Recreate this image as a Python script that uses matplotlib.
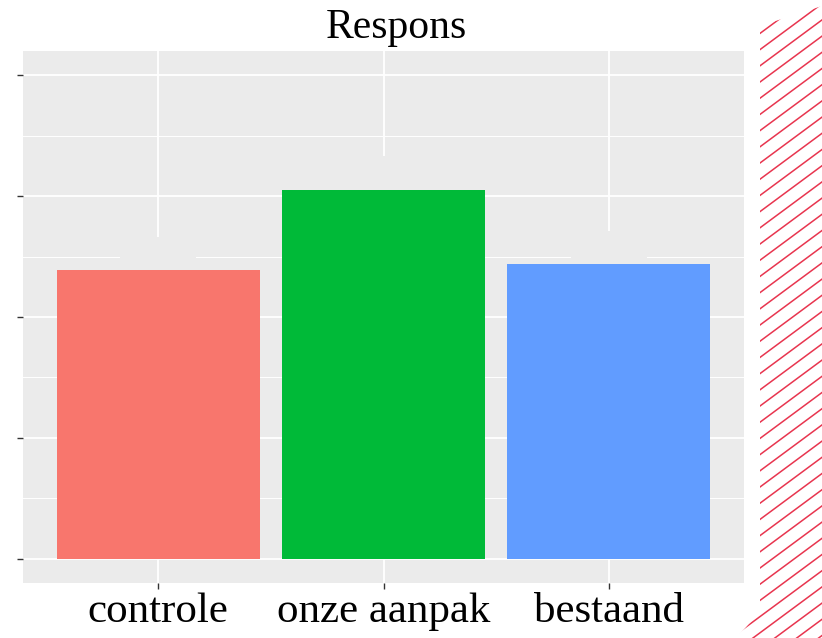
import matplotlib
matplotlib.use("Agg")
import matplotlib.pyplot as plt
from matplotlib.lines import Line2D
from matplotlib.patches import Polygon
import numpy as np

categories = ["controle", "onze aanpak", "bestaand"]
values = [2.39, 3.05, 2.44]
errors = [0.27, 0.28, 0.27]
colors = ["#F8766D", "#00BA38", "#619CFF"]
title = "Respons"
yticks = [0, 1, 2, 3, 4]

W, H = 822, 638
fig = plt.figure(figsize=(W / 100, H / 100), dpi=100)
fig.patch.set_facecolor("white")

serif = ["Liberation Serif", "DejaVu Serif"]
panel = "#EBEBEB"

ax = fig.add_axes([23 / W, 1 - 583 / H, (744 - 23) / W, (583 - 51) / H])
ax.set_facecolor(panel)
for s in ax.spines.values():
    s.set_visible(False)

x = np.arange(len(categories))
ax.set_xlim(-0.6, len(categories) - 0.4)
ax.set_ylim(-0.2, 4.2)

# grid
ax.set_yticks(yticks)
ax.set_yticks([v + 0.5 for v in yticks[:-1]], minor=True)
ax.set_xticks(x)
ax.grid(True, which="major", axis="both", color="white", linewidth=1.3, zorder=0)
ax.grid(True, which="minor", axis="y", color="white", linewidth=0.7, zorder=0)
ax.set_axisbelow(True)

# hidden (panel-coloured) error boxes
ax.bar(x, errors, bottom=values, width=0.337, color=panel, zorder=1.5, linewidth=0)
ax.bar(x, values, width=0.9, color=colors, zorder=2, linewidth=0)

ax.set_yticklabels([])
ax.set_xticklabels(categories, fontfamily=serif, fontsize=31)
ax.tick_params(axis="both", which="major", color="#333333", length=4, width=1)
ax.tick_params(axis="x", pad=3)
ax.tick_params(axis="y", which="minor", length=0)

fig.text(396 / W, 1 - 38 / H, title, ha="center", va="baseline",
         fontfamily=serif, fontsize=30, color="black")

# decorative hatch at the right edge
deco = fig.add_axes([0, 0, 1, 1], zorder=-1)
deco.set_xlim(0, W)
deco.set_ylim(H, 0)
deco.axis("off")
poly = Polygon([(760, 26), (822, 6), (822, 638), (736, 638), (760, 612)],
               closed=True, facecolor="none", edgecolor="none")
deco.add_patch(poly)
slope = 0.74
for y0 in np.arange(-80, 720, 16.2):
    xs = np.array([700, 830])
    ys = y0 - slope * (xs - 760)
    ln = Line2D(xs, ys, color="#E8354F", linewidth=1.1)
    deco.add_line(ln)
    ln.set_clip_path(poly)

fig.savefig("out.png", dpi=100)
